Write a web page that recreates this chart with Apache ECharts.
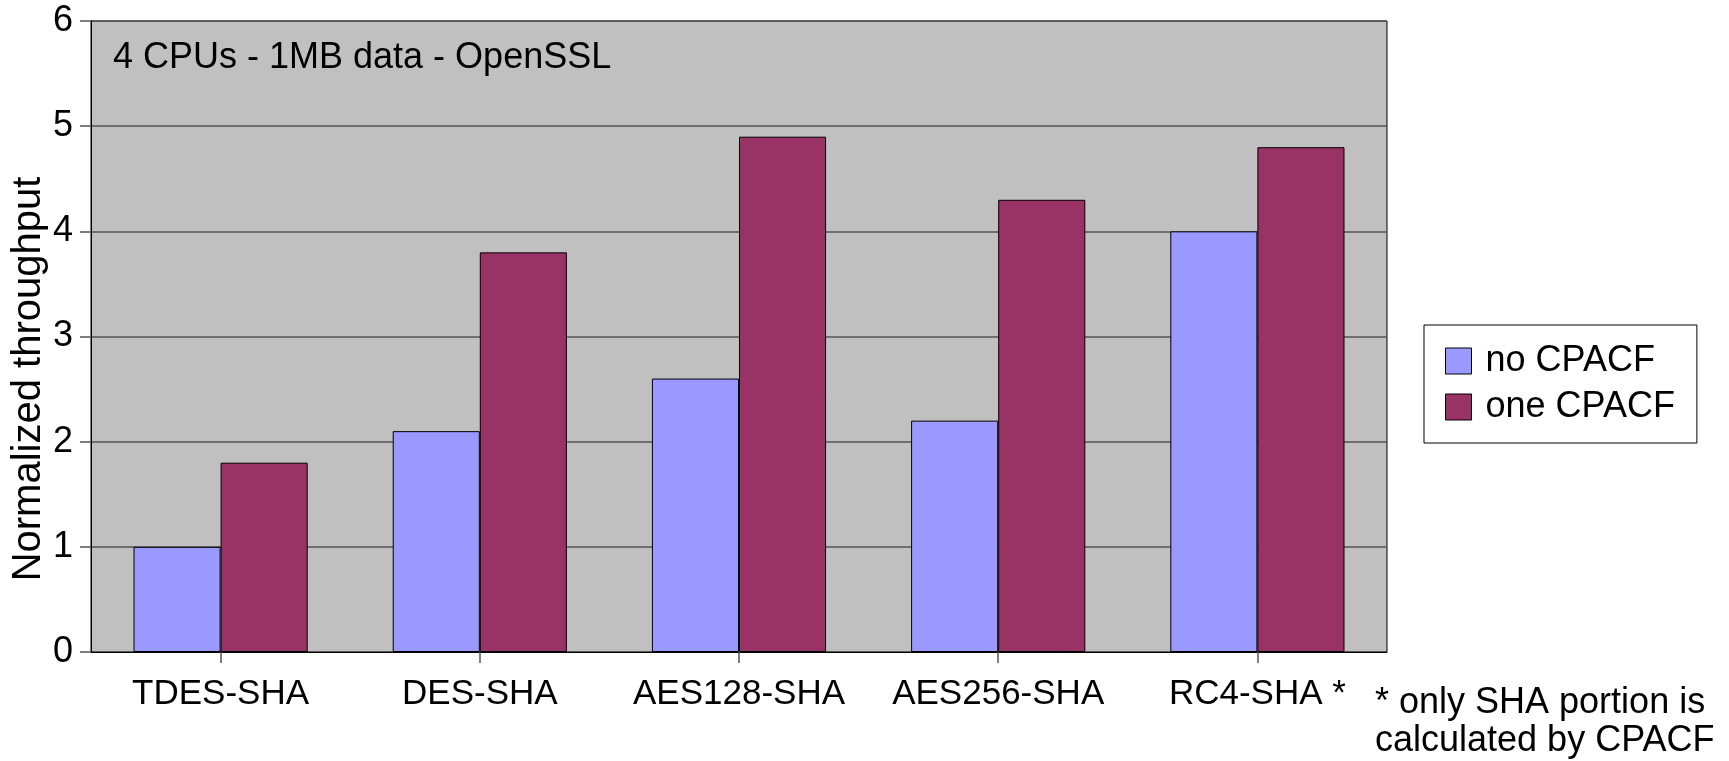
<!DOCTYPE html>
<html>
<head>
<meta charset="utf-8">
<script src="https://cdn.jsdelivr.net/npm/echarts@6/dist/echarts.min.js"></script>
<style>
  html, body { margin: 0; padding: 0; background: #fff; }
  #chart { width: 1729px; height: 761px; }
</style>
</head>
<body>
<div id="chart"></div>
<script>
// Cipher suites benchmarked
const categories = ['TDES-SHA', 'DES-SHA', 'AES128-SHA', 'AES256-SHA', 'RC4-SHA *'];
// Normalized throughput per configuration
const noCpacf = [1.0, 2.1, 2.6, 2.2, 4.0];
const oneCpacf = [1.8, 3.8, 4.9, 4.3, 4.8];
const seriesNames = ['no CPACF', 'one CPACF'];
const yTicks = [0, 1, 2, 3, 4, 5, 6];

const FONT = '"Liberation Sans", Arial, sans-serif';

const chart = echarts.init(document.getElementById('chart'), null, { renderer: 'canvas' });

chart.setOption({
  animation: false,
  backgroundColor: '#ffffff',
  textStyle: { fontFamily: FONT, color: '#000' },
  grid: {
    left: 91, right: 342, top: 21, bottom: 109,
    outerBoundsMode: 'none',
    containLabel: false,
    show: true,
    backgroundColor: '#C0C0C0',
    borderColor: '#000',
    borderWidth: 1
  },
  legend: {
    orient: 'vertical',
    left: 1424, top: 325,
    padding: [18, 22, 18, 21],
    itemGap: 10,
    itemWidth: 26, itemHeight: 26,
    borderColor: '#000', borderWidth: 1,
    backgroundColor: '#fff',
    icon: 'rect',
    itemStyle: { borderColor: '#000', borderWidth: 1 },
    textStyle: { fontFamily: FONT, fontSize: 36, lineHeight: 36, color: '#000', padding: [0, 0, 0, 9] },
    data: seriesNames
  },
  xAxis: {
    type: 'category',
    data: categories,
    axisLine: { show: true, lineStyle: { color: '#000', width: 1 } },
    axisTick: { show: true, alignWithLabel: true, interval: 0, length: 11, lineStyle: { color: '#555', width: 1.5 } },
    axisLabel: { interval: 0, hideOverlap: false, fontFamily: FONT, fontSize: 35, color: '#000', margin: 25 }
  },
  yAxis: {
    type: 'value',
    min: yTicks[0], max: yTicks[yTicks.length - 1], interval: 1,
    axisLine: { show: true, lineStyle: { color: '#000', width: 1 } },
    axisTick: { show: true, length: 11, lineStyle: { color: '#555', width: 1.5 } },
    axisLabel: { fontFamily: FONT, fontSize: 36, color: '#000', margin: 18 },
    splitLine: { show: true, lineStyle: { color: '#555', width: 1.5 } }
  },
  series: [
    {
      name: seriesNames[0], type: 'bar', data: noCpacf,
      barWidth: '33.6%', barGap: '0%',
      itemStyle: { color: '#9999FF', borderColor: '#000', borderWidth: 1 }
    },
    {
      name: seriesNames[1], type: 'bar', data: oneCpacf,
      barWidth: '33.6%', barGap: '0%',
      itemStyle: { color: '#993366', borderColor: '#000', borderWidth: 1 }
    }
  ],
  graphic: [
    {
      // value-axis title, rotated
      type: 'text', x: 29, y: 379, rotation: Math.PI / 2, z: 10,
      style: {
        text: 'Normalized throughput', font: '40px ' + FONT, fill: '#000',
        align: 'center', verticalAlign: 'middle'
      }
    },
    {
      type: 'text', left: 113, top: 40, z: 10,
      style: { text: '4 CPUs - 1MB data - OpenSSL', font: '36px ' + FONT, fill: '#000' }
    },
    {
      type: 'text', left: 1375, top: 684, z: 10,
      style: {
        text: '* only SHA portion is\ncalculated by CPACF',
        font: '36px ' + FONT, fill: '#000', lineHeight: 38
      }
    }
  ]
});
</script>
</body>
</html>
